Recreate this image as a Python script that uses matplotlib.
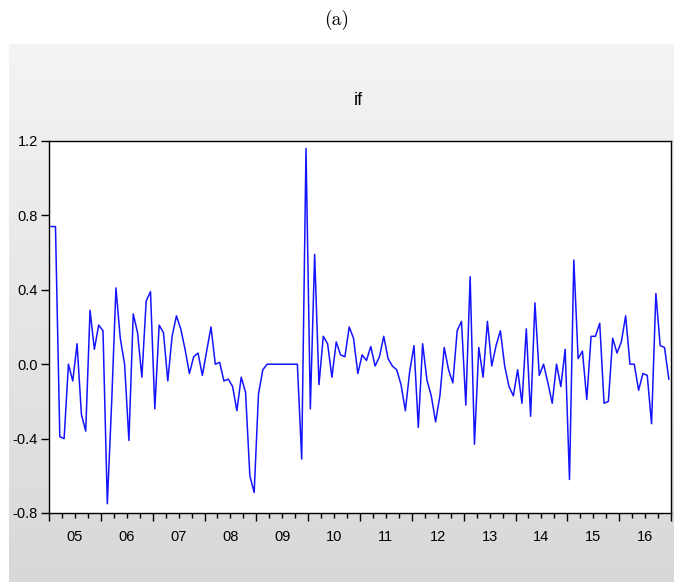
import numpy as np
import matplotlib.pyplot as plt
from matplotlib import transforms
from matplotlib.colors import LinearSegmentedColormap

# monthly series "if", 2005m01 .. 2016m12
if_vals = [0.74, 0.74, -0.39, -0.40, 0.00, -0.09, 0.11, -0.27, -0.36, 0.29, 0.08, 0.21,
           0.18, -0.75, -0.21, 0.41, 0.14, 0.00, -0.41, 0.27, 0.17, -0.07, 0.34, 0.39,
           -0.24, 0.21, 0.17, -0.09, 0.15, 0.26, 0.19, 0.08, -0.05, 0.04, 0.06, -0.06,
           0.07, 0.20, 0.00, 0.01, -0.09, -0.08, -0.12, -0.25, -0.07, -0.15, -0.60, -0.69,
           -0.16, -0.03, 0.0, 0.0, 0.0, 0.0, 0.0, 0.0, 0.0, 0.0, -0.51, 1.16,
           -0.24, 0.59, -0.11, 0.15, 0.11, -0.07, 0.12, 0.05, 0.04, 0.20, 0.14, -0.05,
           0.05, 0.02, 0.095, -0.01, 0.04, 0.15, 0.03, -0.01, -0.03, -0.11, -0.25, -0.04,
           0.10, -0.34, 0.11, -0.085, -0.17, -0.31, -0.17, 0.09, -0.03, -0.10, 0.18, 0.23,
           -0.22, 0.47, -0.43, 0.09, -0.07, 0.23, -0.01, 0.10, 0.18, -0.01, -0.12, -0.17,
           -0.03, -0.21, 0.19, -0.28, 0.33, -0.06, 0.00, -0.10, -0.21, 0.00, -0.12, 0.08,
           -0.62, 0.56, 0.03, 0.07, -0.19, 0.15, 0.15, 0.22, -0.21, -0.20, 0.14, 0.06,
           0.12, 0.26, 0.00, 0.00, -0.14, -0.05, -0.06, -0.32, 0.38, 0.10, 0.09, -0.08]

year_labels = ['05', '06', '07', '08', '09', '10', '11', '12', '13', '14', '15', '16']
y_ticks = [-0.8, -0.4, 0.0, 0.4, 0.8, 1.2]
y_labels = ['-0.8', '-0.4', '0.0', '0.4', '0.8', '1.2']

W, H = 674, 582
fig = plt.figure(figsize=(W / 100, H / 100), dpi=100)
fig.patch.set_facecolor('white')

# grey gradient panel behind the graph (eviews style)
bg = fig.add_axes([9 / W, 0, 1 - 9 / W, 1 - 44 / H])
cmap = LinearSegmentedColormap.from_list('panel', ['#f4f4f4', '#d8d8d8'])
bg.imshow(np.linspace(0, 1, 256).reshape(-1, 1), cmap=cmap, aspect='auto')
bg.axis('off')

ax = fig.add_axes([49 / W, 1 - 513 / H, (671 - 49) / W, (513 - 141) / H])
ax.set_facecolor('white')

months = np.arange(len(if_vals)) + 0.5
ax.plot(months, if_vals, color='#1414ff', lw=1.1)

ax.set_xlim(0, len(if_vals))
ax.set_ylim(-0.8, 1.2)

ax.set_yticks(y_ticks)
ax.set_yticklabels(y_labels, fontsize=10.5, family='Liberation Sans')
ax.set_xticks(np.arange(0, len(if_vals) + 1, 12))
ax.set_xticks(np.arange(0, len(if_vals) + 1, 3), minor=True)
ax.set_xticklabels([])
ax.tick_params(axis='y', direction='out', length=6, width=1, pad=2)
ax.tick_params(axis='x', which='major', direction='out', length=6, width=1)
ax.tick_params(axis='x', which='minor', direction='out', length=3.5, width=1)
for s in ax.spines.values():
    s.set_linewidth(1.0)

# year labels centred in each year
tr = transforms.blended_transform_factory(ax.transData, fig.transFigure)
for k, lab in enumerate(year_labels):
    ax.text(12 * k + 6, 1 - 537 / H, lab, transform=tr, ha='center', va='center',
            fontsize=10.5, family='Liberation Sans')

fig.text(358 / W, 1 - 100 / H, 'if', ha='center', va='center', fontsize=13,
         family='Liberation Sans')
fig.text(0.5, 1 - 20 / H, '(a)', ha='center', va='center', fontsize=14, family='cmr10')

fig.savefig('out.png', dpi=100)
